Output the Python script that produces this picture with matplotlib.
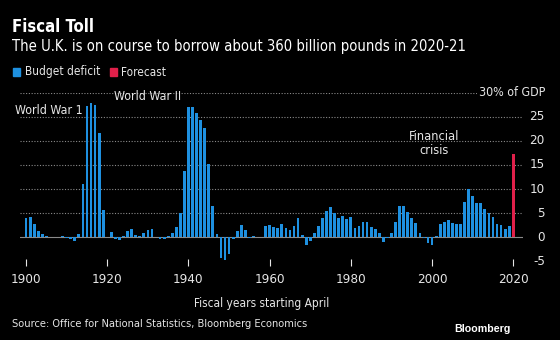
import matplotlib
matplotlib.use("Agg")
import matplotlib.pyplot as plt
from matplotlib import font_manager
import numpy as np

years = list(range(1900, 2020))
deficit = [
    3.9, 4.1, 2.7, 1.2, 0.7, 0.3, 0.1, 0.1, 0.1, 0.25,
    -0.2, -0.4, -0.7, 0.7, 11.1, 27.2, 27.9, 27.4, 21.6, 5.7,
    0.0, 1.0, -0.3, -0.6, 0.35, 1.4, 1.8, 0.4, 0.3, 0.9,
    1.6, 1.8, 0.1, -0.35, -0.3, 0.35, 0.8, 2.1, 5.1, 13.8,
    27.1, 27.1, 25.7, 24.3, 22.6, 15.1, 6.4, 0.7, -4.4, -4.8,
    -3.5, -0.4, 1.2, 2.5, 1.5, -0.2, 0.35, 0.1, 0.1, 2.3,
    2.5, 2.1, 1.9, 2.7, 1.9, 1.5, 2.4, 3.9, 0.5, -1.7,
    -0.7, 0.8, 2.4, 3.9, 5.5, 6.3, 5.0, 3.9, 4.4, 3.7,
    4.1, 1.9, 2.4, 3.2, 3.2, 2.1, 1.8, 0.8, -1.0, -0.1,
    0.8, 3.2, 6.4, 6.5, 5.3, 4.0, 3.0, 0.8, -0.1, -1.2,
    -1.6, 0.35, 2.8, 3.1, 3.6, 3.0, 2.8, 2.8, 7.4, 10.1,
    8.6, 7.2, 7.2, 5.9, 5.1, 4.1, 2.7, 2.5, 1.8, 2.4,
]
forecast_year = [2020]
forecast = [17.3]
xticks = [1900, 1920, 1940, 1960, 1980, 2000, 2020]
yticks = [-5, 0, 5, 10, 15, 20, 25]

cond = [f for f in font_manager.fontManager.ttflist
        if 'Condensed' in f.fname or 'Narrow' in f.fname]
if cond:
    FONT = font_manager.FontProperties(fname=cond[0].fname).get_name()
    STRETCH = cond[0].stretch
else:
    FONT, STRETCH = 'DejaVu Sans', 'normal'
plt.rcParams['font.family'] = [FONT, 'DejaVu Sans']
plt.rcParams['font.stretch'] = STRETCH

BG = 'black'
BLUE = '#1e90e0'
RED = '#e0204a'
FG = '#e6e6e6'
GRID = '#8a8a8a'

fig = plt.figure(figsize=(5.6, 3.4), dpi=100, facecolor=BG)
W, H = 560, 340
ax_left, ax_right = 20, 523
ax_top, ax_bottom = 92.6, 266.2
ax = fig.add_axes([ax_left / W, 1 - ax_bottom / H, (ax_right - ax_left) / W, (ax_bottom - ax_top) / H])
ax.set_facecolor(BG)
ax.set_xlim(1898.5, 2022.4)
ax.set_ylim(-6, 30)

for g in [5, 10, 15, 20, 25, 30]:
    ax.axhline(g, color=GRID, lw=0.8, ls=(0, (1, 1.5)), zorder=0)
ax.axhline(0, color=GRID, lw=0.8, zorder=0)

ax.bar(years, deficit, width=0.68, color=BLUE, zorder=2)
ax.bar(forecast_year, forecast, width=0.68, color=RED, zorder=2)

for s in ax.spines.values():
    s.set_visible(False)
ax.set_xticks(xticks)
ax.set_xticklabels([str(t) for t in xticks], color=FG, fontsize=9.6)
ax.tick_params(axis='x', length=5, width=0.8, color=FG, pad=5, direction='in')
ax.set_yticks([])

trans = ax.get_yaxis_transform()
xr = 1 + (545 - ax_right) / (ax_right - ax_left)
for t in yticks:
    ax.text(xr, t, str(t), transform=trans,
            ha='right', va='center', color=FG, fontsize=9.6, clip_on=False)
ax.text(xr, 30, '30% of GDP', transform=trans,
        ha='right', va='center', color=FG, fontsize=8.9, clip_on=False,
        bbox=dict(facecolor=BG, edgecolor='none', pad=1))

ax.text(1905.5, 26.2, 'World War 1', color=FG, fontsize=8.9, ha='center', va='center')
ax.text(1930, 29.1, 'World War II', color=FG, fontsize=8.9, ha='center', va='center')
ax.text(2000.5, 19.4, 'Financial\ncrisis', color=FG, fontsize=9.2, ha='center', va='center',
        linespacing=1.15)

fig.text(12 / W, 1 - 27 / H, 'Fiscal Toll', color='white', fontsize=12, fontweight='bold',
         ha='left', va='center')
fig.text(12 / W, 1 - 46 / H, 'The U.K. is on course to borrow about 360 billion pounds in 2020-21',
         color='white', fontsize=10.6, ha='left', va='center')
fig.patches.append(plt.Rectangle((13 / W, 1 - 76 / H), 7 / W, 8 / H, transform=fig.transFigure,
                                 color=BLUE, figure=fig))
fig.text(25 / W, 1 - 72 / H, 'Budget deficit', color=FG, fontsize=8.5, ha='left', va='center')
fig.patches.append(plt.Rectangle((110 / W, 1 - 76 / H), 7 / W, 8 / H, transform=fig.transFigure,
                                 color=RED, figure=fig))
fig.text(121 / W, 1 - 72 / H, 'Forecast', color=FG, fontsize=8.5, ha='left', va='center')

fig.text(262 / W, 1 - 303 / H, 'Fiscal years starting April', color=FG, fontsize=8.6,
         ha='center', va='center')
fig.text(12 / W, 1 - 324 / H, 'Source: Office for National Statistics, Bloomberg Economics',
         color=FG, fontsize=7.9, ha='left', va='center')
fig.text(511 / W, 1 - 329 / H, 'Bloomberg', color='white', fontsize=7.7, fontweight='bold',
         ha='right', va='center', family=['Liberation Sans', 'DejaVu Sans'])

fig.savefig('out.png', dpi=100, facecolor=BG)
